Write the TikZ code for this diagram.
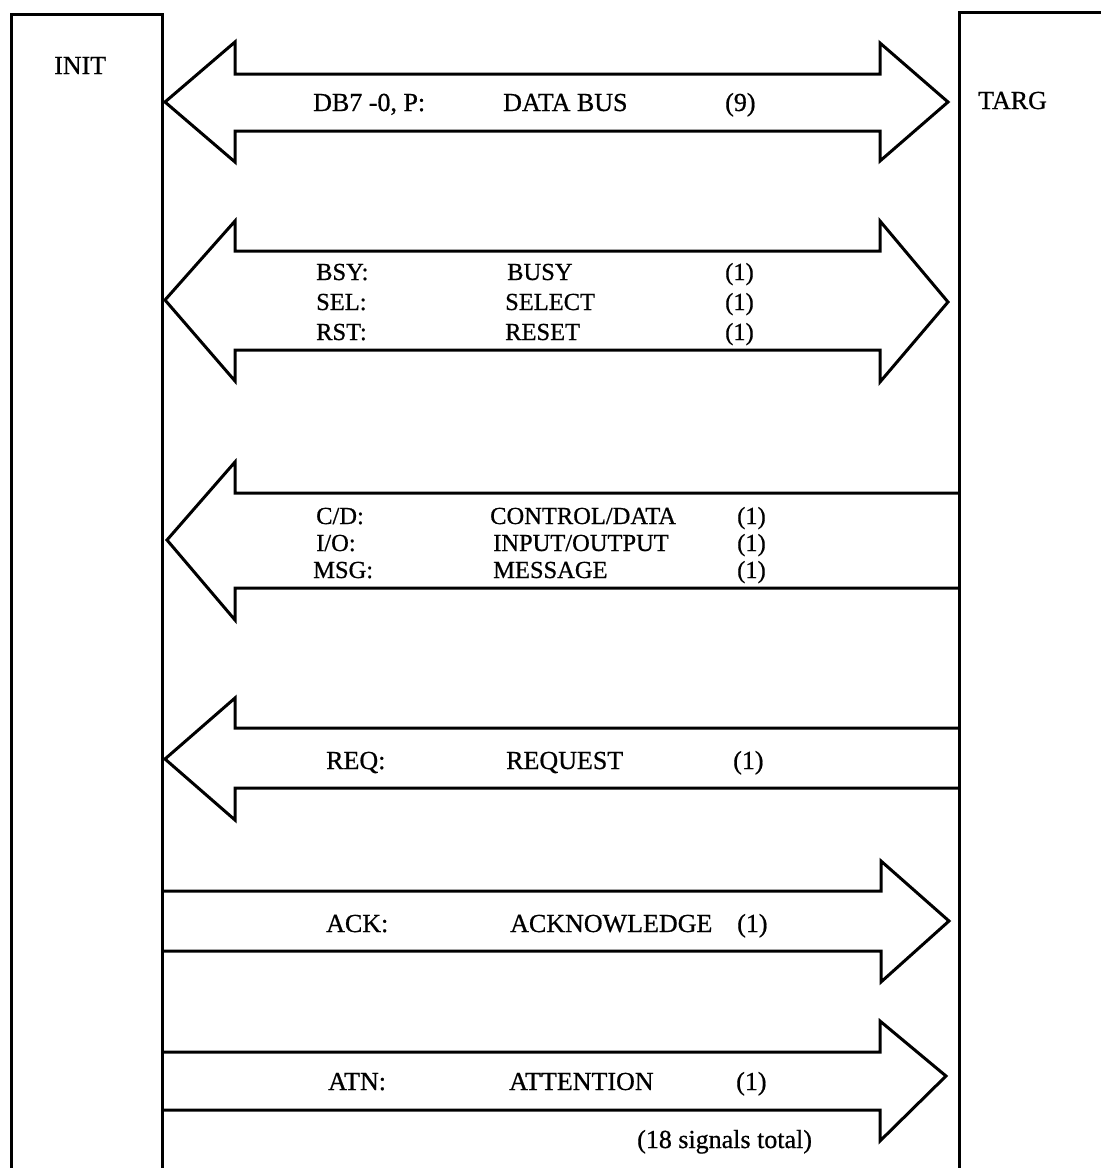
\documentclass[tikz,border=0pt]{standalone}
\usepackage{fontspec}
\setmainfont{Liberation Serif}
\begin{document}
\begin{tikzpicture}[x=1pt,y=-1pt,
  wire/.style={draw=black,line width=3pt,line join=miter},
  lbl/.style={anchor=base west,inner sep=0pt,font=\fontsize{26}{30}\selectfont\addfontfeature{FakeBold=0.7}},
  slbl/.style={anchor=base west,inner sep=0pt,font=\fontsize{24.5}{28}\selectfont\addfontfeature{FakeBold=0.7}}]
\useasboundingbox (0,0) rectangle (1101,1168);
\fill[white] (0,0) rectangle (1101,1168);
% unit boxes
\draw[wire] (11,1168) -- (11,14) -- (162,14) -- (162,1168);
\draw[wire] (959,1168) -- (959,12) -- (1101,12);
\node[lbl] (init) at (54,74) {INIT};
\node[lbl] (targ) at (978,109) {TARG};
% arrow 1: data bus (both ways)
\draw[wire] (165,102) -- (235,42) -- (235,74) -- (880,74) -- (880,43) -- (948,102)
  -- (880,161) -- (880,131) -- (235,131) -- (235,162) -- cycle;
\node[lbl] (db) at (313,111) {DB7 -0, P:};
\node[lbl] (dbn) at (503,111) {DATA BUS};
\node[lbl] (dbc) at (725,111) {(9)};
% arrow 2: BSY SEL RST (both ways)
\draw[wire] (165,300) -- (235,221) -- (235,251) -- (880,251) -- (880,221) -- (948,302)
  -- (880,382) -- (880,350) -- (235,350) -- (235,381) -- cycle;
\node[slbl] (bsy) at (316,280) {BSY:};
\node[slbl] (sel) at (316,310) {SEL:};
\node[slbl] (rst) at (316,340) {RST:};
\node[slbl] (bsyn) at (507,280) {BUSY};
\node[slbl] (seln) at (505,310) {SELECT};
\node[slbl] (rstn) at (505,340) {RESET};
\node[slbl] (bsyc) at (725,280) {(1)};
\node[slbl] (selc) at (725,310) {(1)};
\node[slbl] (rstc) at (725,340) {(1)};
% arrow 3: C/D I/O MSG (to initiator)
\draw[wire] (959,493) -- (235,493) -- (235,462) -- (167,540) -- (235,620) -- (235,588) -- (959,588);
\node[slbl] (cd) at (316,524) {C/D:};
\node[slbl] (io) at (316,551) {I/O:};
\node[slbl] (msg) at (313,578) {MSG:};
\node[slbl] (cdn) at (490,524) {CONTROL/DATA};
\node[slbl] (ion) at (493,551) {INPUT/OUTPUT};
\node[slbl] (msgn) at (493,578) {MESSAGE};
\node[slbl] (cdc) at (737,524) {(1)};
\node[slbl] (ioc) at (737,551) {(1)};
\node[slbl] (msgc) at (737,578) {(1)};
% arrow 4: REQ (to initiator)
\draw[wire] (959,728) -- (235,728) -- (235,698) -- (165,759) -- (235,820) -- (235,788) -- (959,788);
\node[lbl] (req) at (326,769) {REQ:};
\node[lbl] (reqn) at (506,769) {REQUEST};
\node[lbl] (reqc) at (733,769) {(1)};
% arrow 5: ACK (to target)
\draw[wire] (162,891) -- (881,891) -- (881,861) -- (949,921) -- (881,982) -- (881,951) -- (162,951);
\node[lbl] (ack) at (326,932) {ACK:};
\node[lbl] (ackn) at (510,932) {ACKNOWLEDGE};
\node[lbl] (ackc) at (737,932) {(1)};
% arrow 6: ATN (to target)
\draw[wire] (162,1052) -- (880,1052) -- (880,1021) -- (946,1076) -- (880,1141) -- (880,1110) -- (162,1110);
\node[lbl] (atn) at (328,1090) {ATN:};
\node[lbl] (atnn) at (509,1090) {ATTENTION};
\node[lbl] (atnc) at (736,1090) {(1)};
\node[lbl] (total) at (637,1148) {(18 signals total)};
\end{tikzpicture}
\end{document}
